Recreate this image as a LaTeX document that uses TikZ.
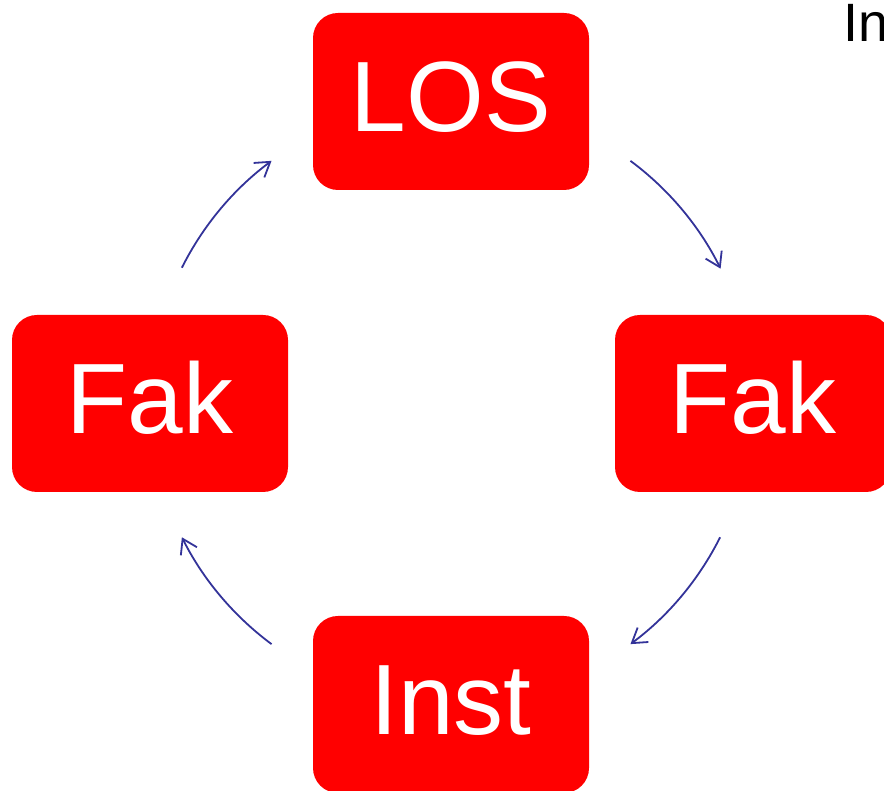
\documentclass[tikz,border=0pt]{standalone}
\usepackage{fontspec}
\setmainfont{Liberation Sans}
\usetikzlibrary{arrows.meta}
\definecolor{boxred}{RGB}{255,0,0}
\definecolor{arrowblue}{RGB}{51,51,153}
\begin{document}
\begin{tikzpicture}[x=1pt,y=1pt,
  box/.style={fill=boxred, draw=none, rounded corners=25pt, minimum width=276pt, minimum height=177pt,
    inner sep=0pt, text=white, font=\fontsize{100}{100}\selectfont, text height=72pt, text depth=11pt},
  cyc/.style={draw=arrowblue, line width=1.8pt, -{Straight Barb[length=14pt,width=18pt]}}]
\useasboundingbox (0,0) rectangle (884,791);
\clip (0,0) rectangle (884,791);
\coordinate (c) at (451,388.5);
\node[box] (los) at (451,689.5) {LOS};
\node[box] (fakr) at (753,387.5) {Fak};
\node[box] (fakl) at (150,387.5) {Fak};
\node[box] (inst) at (451,86.5) {Inst};
\node[anchor=base west, inner sep=0pt, font=\fontsize{54}{54}\selectfont] (intext) at (843,749) {In};
\coordinate (a1) at ([shift={(53.4:301pt)}]c);
\coordinate (a2) at ([shift={(-26.6:301pt)}]c);
\coordinate (a3) at ([shift={(233.4:301pt)}]c);
\coordinate (a4) at ([shift={(153.4:301pt)}]c);
\draw[cyc] (a1) arc[start angle=53.4, end angle=26.4, radius=301pt];
\draw[cyc] (a2) arc[start angle=-26.6, end angle=-53.4, radius=301pt];
\draw[cyc] (a3) arc[start angle=233.4, end angle=206.6, radius=301pt];
\draw[cyc] (a4) arc[start angle=153.4, end angle=126.6, radius=301pt];
\end{tikzpicture}
\end{document}
